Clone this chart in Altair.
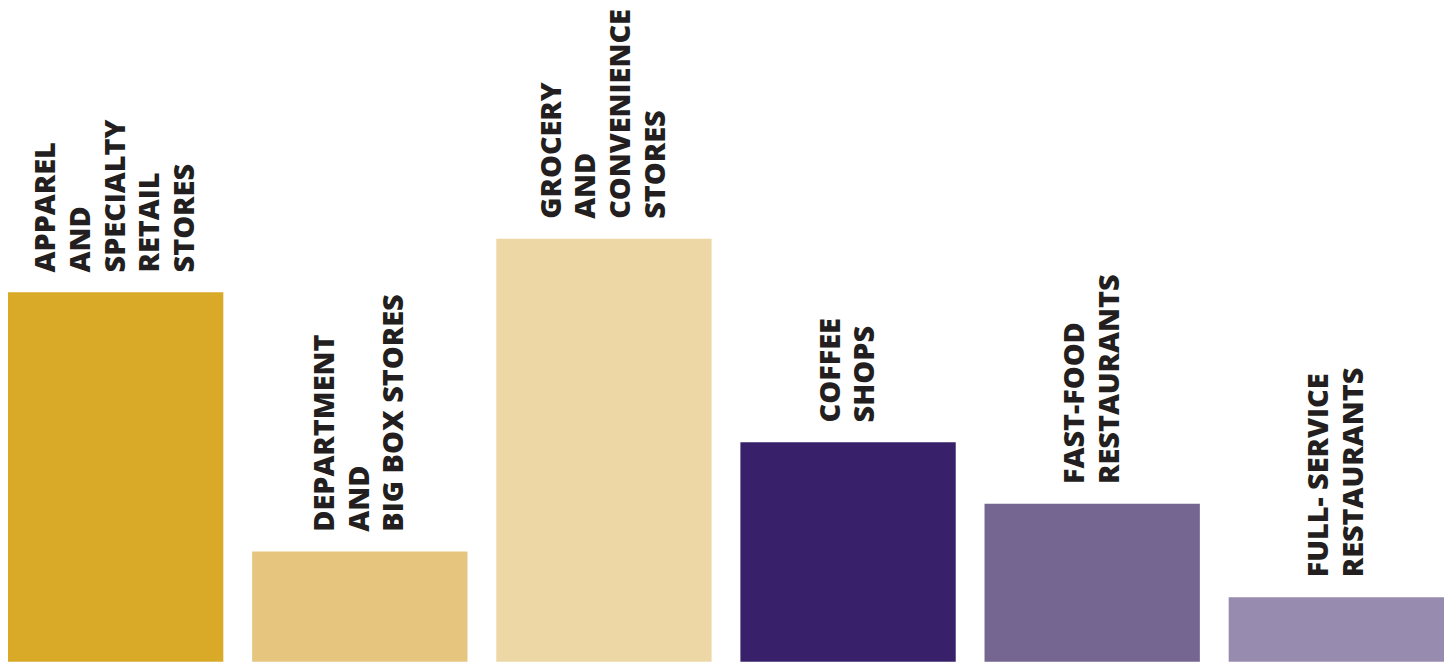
import altair as alt
import pandas as pd

categories = [
    "APPAREL\nAND\nSPECIALTY\nRETAIL\nSTORES",
    "DEPARTMENT\nAND\nBIG BOX STORES",
    "GROCERY\nAND\nCONVENIENCE\nSTORES",
    "COFFEE\nSHOPS",
    "FAST-FOOD\nRESTAURANTS",
    "FULL- SERVICE\nRESTAURANTS",
]
values = [372, 111, 426, 221, 159, 65]
colors = ["#d9aa28", "#e6c67f", "#edd8a5", "#38216a", "#756591", "#988bb0"]

LINE_H = 35

df = pd.DataFrame({"cat": categories, "value": values, "color": colors})
df["nlines"] = df["cat"].str.count("\n") + 1

x = alt.X("cat:N", sort=categories, axis=None,
          scale=alt.Scale(paddingInner=0.118, paddingOuter=0))
y = alt.Y("value:Q", axis=None, scale=alt.Scale(domain=[0, 656], nice=False, zero=True))

bars = alt.Chart(df).mark_bar().encode(
    x=x, y=y, color=alt.Color("color:N", scale=None, legend=None)
)

layers = [bars]
for n in sorted(df["nlines"].unique()):
    layers.append(
        alt.Chart(df).transform_filter(f"datum.nlines == {int(n)}").mark_text(
            angle=270, align="left", baseline="middle", dx=20,
            dy=-(int(n) - 1) * LINE_H / 2, lineBreak="\n",
            font="Open Sans", fontWeight=800, fontSize=29, lineHeight=LINE_H,
            color="#231f20",
        ).encode(x=x, y=y, text="cat:N")
    )

chart = alt.layer(*layers).properties(
    width=1446, height=656, padding=0,
    autosize=alt.AutoSizeParams(type="none"),
).configure_view(stroke=None)

chart.save("out.html", embed_options={"renderer": "svg", "actions": False})
